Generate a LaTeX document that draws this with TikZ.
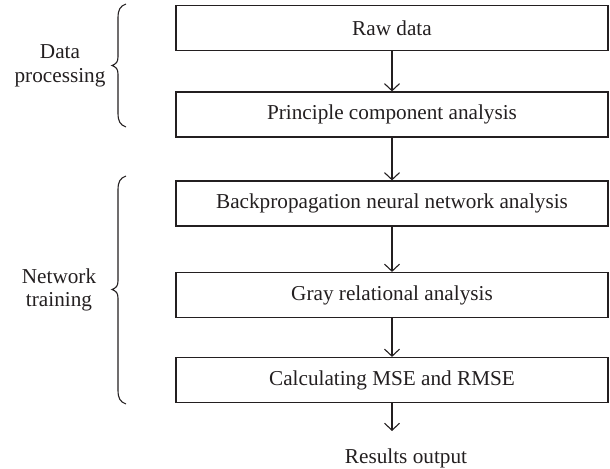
\documentclass[tikz,border=0pt]{standalone}
\usepackage{fontspec}
\setmainfont{Liberation Serif}
\usetikzlibrary{arrows.meta}
\definecolor{ink}{HTML}{231F20}
\tikzset{
  stepbox/.style={draw=ink, line width=1.2bp, minimum width=432bp, minimum height=45bp, inner sep=0pt, text=ink, font=\fontsize{21.3}{25}\selectfont},
  flow/.style={draw=ink, line width=1.1bp, -{Straight Barb[length=7bp,width=15bp,line width=1.1bp]}},
  lbl/.style={text=ink, align=center, inner sep=0pt, font=\fontsize{21.3}{23.5}\selectfont},
  bracepath/.style={draw=ink, line width=1.1bp}
}
\begin{document}
\begin{tikzpicture}[x=1bp,y=-1bp]
\useasboundingbox (0,0) rectangle (610,469);
\node[stepbox] (b1) at (392,28) {Raw data};
\node[stepbox] (b2) at (392,114.5) {Principle component analysis};
\node[stepbox] (b3) at (392,203.5) {Backpropagation neural network analysis};
\node[stepbox] (b4) at (392,295) {Gray relational analysis};
\node[stepbox] (b5) at (392,380) {Calculating MSE and RMSE};
\node[lbl] (res) at (406,458) {Results output};
\coordinate (resin) at (392,431);
\draw[flow] (b1) -- (b2);
\draw[flow] (b2) -- (b3);
\draw[flow] (b3) -- (b4);
\draw[flow] (b4) -- (b5);
\draw[flow] (b5) -- (resin);
% braces
\draw[bracepath] (126,4) .. controls (120,6) and (118,10) .. (118,18) -- (118,57) .. controls (118,62) and (116,64) .. (112,65.5)
  .. controls (116,67) and (118,69) .. (118,74) -- (118,113) .. controls (118,121) and (120,125) .. (126,127);
\draw[bracepath] (126,176) .. controls (120,178) and (118,182) .. (118,190) -- (118,281) .. controls (118,286) and (116,288) .. (112,289.5)
  .. controls (116,291) and (118,293) .. (118,298) -- (118,390) .. controls (118,398) and (120,402) .. (126,404);
\node[lbl] (dp) at (60,66) {Data\\processing};
\node[lbl] (nt) at (59,290) {Network\\training};
\end{tikzpicture}
\end{document}
